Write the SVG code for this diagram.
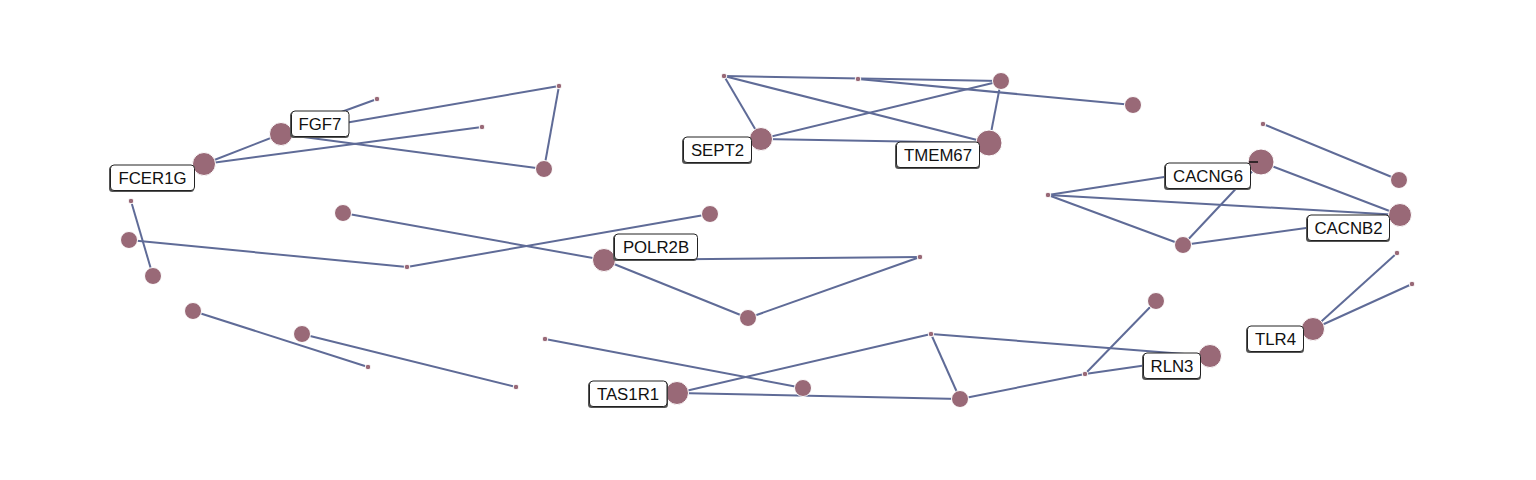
<svg xmlns="http://www.w3.org/2000/svg" width="1536" height="480" viewBox="0 0 1536 480">
<style>
.e{stroke:#5f6b97;stroke-width:2;fill:none}
.n{fill:#996977;stroke:#fff;stroke-width:1}
.lb{fill:#fff;stroke:#222;stroke-width:1}
.sh{fill:#555}
.t{font-family:"Liberation Sans",Arial,sans-serif;font-size:16.8px;fill:#111;text-anchor:middle}
</style>
<rect width="1536" height="480" fill="#fff"/>
<g id="edges">
<line class="e" x1="204" y1="164" x2="281" y2="134"/>
<line class="e" x1="204" y1="164" x2="482" y2="127"/>
<line class="e" x1="281" y1="134" x2="377" y2="99"/>
<line class="e" x1="281" y1="134" x2="559" y2="86"/>
<line class="e" x1="281" y1="134" x2="544" y2="169"/>
<line class="e" x1="559" y1="86" x2="544" y2="169"/>
<line class="e" x1="131" y1="201" x2="153" y2="276"/>
<line class="e" x1="129" y1="240" x2="407" y2="267"/>
<line class="e" x1="407" y1="267" x2="710" y2="214"/>
<line class="e" x1="343" y1="213" x2="604" y2="260"/>
<line class="e" x1="604" y1="260" x2="920" y2="257"/>
<line class="e" x1="604" y1="260" x2="748" y2="318"/>
<line class="e" x1="748" y1="318" x2="920" y2="257"/>
<line class="e" x1="193" y1="311" x2="368" y2="367"/>
<line class="e" x1="302" y1="334" x2="516" y2="387"/>
<line class="e" x1="724" y1="76" x2="1001" y2="81"/>
<line class="e" x1="724" y1="76" x2="761" y2="139"/>
<line class="e" x1="724" y1="76" x2="989" y2="143"/>
<line class="e" x1="858" y1="79" x2="1133" y2="105"/>
<line class="e" x1="761" y1="139" x2="1001" y2="81"/>
<line class="e" x1="761" y1="139" x2="989" y2="143"/>
<line class="e" x1="1001" y1="81" x2="989" y2="143"/>
<line class="e" x1="1263" y1="124" x2="1399" y2="180"/>
<line class="e" x1="1048" y1="195" x2="1261" y2="162"/>
<line class="e" x1="1048" y1="195" x2="1400" y2="215"/>
<line class="e" x1="1048" y1="195" x2="1183" y2="245"/>
<line class="e" x1="1183" y1="245" x2="1261" y2="162"/>
<line class="e" x1="1183" y1="245" x2="1400" y2="215"/>
<line class="e" x1="1261" y1="162" x2="1400" y2="215"/>
<line class="e" x1="1313" y1="329" x2="1397" y2="253"/>
<line class="e" x1="1313" y1="329" x2="1412" y2="284"/>
<line class="e" x1="545" y1="339" x2="803" y2="388"/>
<line class="e" x1="677" y1="393" x2="931" y2="334"/>
<line class="e" x1="677" y1="393" x2="960" y2="399"/>
<line class="e" x1="931" y1="334" x2="960" y2="399"/>
<line class="e" x1="931" y1="334" x2="1210" y2="356"/>
<line class="e" x1="960" y1="399" x2="1085" y2="374"/>
<line class="e" x1="1085" y1="374" x2="1210" y2="356"/>
<line class="e" x1="1085" y1="374" x2="1156" y2="301"/>
</g>
<g id="n-small">
<circle class="n" cx="377" cy="99" r="2.8"/>
<circle class="n" cx="559" cy="86" r="2.8"/>
<circle class="n" cx="482" cy="127" r="2.8"/>
<circle class="n" cx="131" cy="201" r="2.8"/>
<circle class="n" cx="407" cy="267" r="2.8"/>
<circle class="n" cx="920" cy="257" r="2.8"/>
<circle class="n" cx="368" cy="367" r="2.8"/>
<circle class="n" cx="516" cy="387" r="2.8"/>
<circle class="n" cx="724" cy="76" r="2.8"/>
<circle class="n" cx="858" cy="79" r="2.8"/>
<circle class="n" cx="1263" cy="124" r="2.8"/>
<circle class="n" cx="1048" cy="195" r="2.8"/>
<circle class="n" cx="1397" cy="253" r="2.8"/>
<circle class="n" cx="1412" cy="284" r="2.8"/>
<circle class="n" cx="545" cy="339" r="2.8"/>
<circle class="n" cx="931" cy="334" r="2.8"/>
<circle class="n" cx="1085" cy="374" r="2.8"/>
</g>
<g id="n-medium">
<circle class="n" cx="544" cy="169" r="8.5"/>
<circle class="n" cx="153" cy="276" r="8.5"/>
<circle class="n" cx="129" cy="240" r="8.5"/>
<circle class="n" cx="710" cy="214" r="8.5"/>
<circle class="n" cx="343" cy="213" r="8.5"/>
<circle class="n" cx="748" cy="318" r="8.5"/>
<circle class="n" cx="193" cy="311" r="8.5"/>
<circle class="n" cx="302" cy="334" r="8.5"/>
<circle class="n" cx="1001" cy="81" r="8.5"/>
<circle class="n" cx="1133" cy="105" r="8.5"/>
<circle class="n" cx="1399" cy="180" r="8.5"/>
<circle class="n" cx="1183" cy="245" r="8.5"/>
<circle class="n" cx="803" cy="388" r="8.5"/>
<circle class="n" cx="960" cy="399" r="8.5"/>
<circle class="n" cx="1156" cy="301" r="8.5"/>
</g>
<g id="FCER1G"><circle class="n" cx="204" cy="164" r="11.5"/><rect class="sh" x="109" y="166" width="85" height="26" rx="3.5"/><rect class="lb" x="110.5" y="165" width="84" height="25.5" rx="3.5"/><text class="t" x="152.5" y="184">FCER1G</text></g>
<g id="FGF7"><circle class="n" cx="281" cy="134" r="11.5"/><rect class="sh" x="290" y="112" width="59" height="26" rx="3.5"/><rect class="lb" x="291.5" y="111" width="57.5" height="25.5" rx="3.5"/><text class="t" x="320" y="130">FGF7</text></g>
<g id="POLR2B"><circle class="n" cx="604" cy="260" r="11.5"/><rect class="sh" x="613" y="235" width="84" height="26" rx="3.5"/><rect class="lb" x="614.5" y="234" width="83" height="25.5" rx="3.5"/><text class="t" x="656" y="253">POLR2B</text></g>
<g id="SEPT2"><circle class="n" cx="761" cy="139" r="11.5"/><rect class="sh" x="682" y="138" width="70" height="26" rx="3.5"/><rect class="lb" x="683.5" y="137" width="68" height="25.5" rx="3.5"/><text class="t" x="717.5" y="156">SEPT2</text></g>
<g id="TMEM67"><circle class="n" cx="989" cy="143" r="13"/><rect class="sh" x="895" y="143" width="85" height="26" rx="3.5"/><rect class="lb" x="896.5" y="142" width="83" height="25.5" rx="3.5"/><text class="t" x="938" y="161">TMEM67</text></g>
<g id="CACNG6"><circle class="n" cx="1261" cy="162" r="13"/><line x1="1249" y1="162" x2="1258" y2="162" stroke="#111" stroke-width="1.5"/><rect class="sh" x="1164" y="164" width="87" height="26" rx="3.5"/><rect class="lb" x="1165.5" y="163" width="85" height="25.5" rx="3.5"/><text class="t" x="1208" y="182">CACNG6</text></g>
<g id="CACNB2"><circle class="n" cx="1400" cy="215" r="11.5"/><rect class="sh" x="1306" y="216" width="84" height="26" rx="3.5"/><rect class="lb" x="1307.5" y="215" width="82" height="25.5" rx="3.5"/><text class="t" x="1348.5" y="234">CACNB2</text></g>
<g id="TLR4"><circle class="n" cx="1313" cy="329" r="11.5"/><rect class="sh" x="1246" y="327" width="58" height="26" rx="3.5"/><rect class="lb" x="1247.5" y="326" width="56" height="25.5" rx="3.5"/><text class="t" x="1275.5" y="345">TLR4</text></g>
<g id="TAS1R1"><circle class="n" cx="677" cy="393" r="11.5"/><rect class="sh" x="588" y="382" width="80" height="26" rx="3.5"/><rect class="lb" x="589.5" y="381" width="77.5" height="25.5" rx="3.5"/><text class="t" x="628" y="400">TAS1R1</text></g>
<g id="RLN3"><circle class="n" cx="1210" cy="356" r="11.5"/><rect class="sh" x="1142" y="354" width="59" height="26" rx="3.5"/><rect class="lb" x="1143.5" y="353" width="57" height="25.5" rx="3.5"/><text class="t" x="1172" y="372">RLN3</text></g>
</svg>
